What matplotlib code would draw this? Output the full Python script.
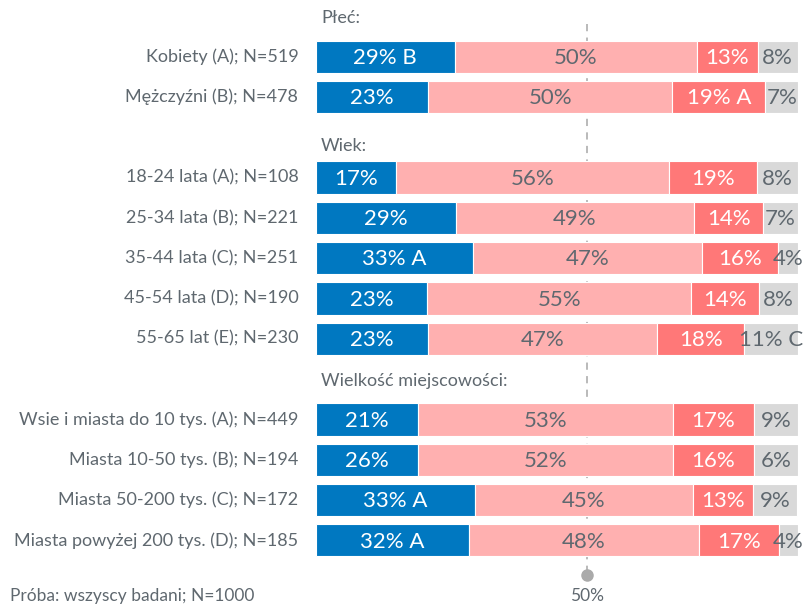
import numpy as np
import matplotlib.pyplot as plt

# Row labels, top to bottom
labels = ["Kobiety (A); N=519", "Mężczyźni (B); N=478",
          "18-24 lata (A); N=108", "25-34 lata (B); N=221", "35-44 lata (C); N=251",
          "45-54 lata (D); N=190", "55-65 lat (E); N=230",
          "Wsie i miasta do 10 tys. (A); N=449", "Miasta 10-50 tys. (B); N=194",
          "Miasta 50-200 tys. (C); N=172", "Miasta powyżej 200 tys. (D); N=185"]

# Segment widths (%) as drawn in the picture
blue = [28.9, 23.4, 16.7, 29.1, 32.6, 23.1, 23.4, 21.3, 21.3, 33.0, 31.8]
pink = [50.2, 50.6, 56.6, 49.4, 47.6, 54.8, 47.5, 52.8, 52.8, 45.2, 47.7]
red = [12.6, 19.3, 18.3, 14.4, 15.8, 14.1, 18.0, 16.8, 16.8, 12.6, 16.6]
gray = [8.3, 6.8, 8.5, 7.1, 4.0, 8.1, 11.1, 9.1, 9.1, 9.1, 3.9]

# Printed labels of each segment
blue_txt = ["29% B", "23%", "17%", "29%", "33% A", "23%", "23%", "21%", "26%", "33% A", "32% A"]
pink_txt = ["50%", "50%", "56%", "49%", "47%", "55%", "47%", "53%", "52%", "45%", "48%"]
red_txt = ["13%", "19% A", "19%", "14%", "16%", "14%", "18%", "17%", "16%", "13%", "17%"]
gray_txt = ["8%", "7%", "8%", "7%", "4%", "8%", "11% C", "9%", "6%", "9%", "4%"]

groups = ["Płeć:", "Wiek:", "Wielkość miejscowości:"]
group_y = [-0.95, 2.22, 8.05]
slots = [0, 1, 3, 4, 5, 6, 7, 9, 10, 11, 12]

ref_x = 56.2  # where the "50%" marker sits on the bar scale

c_blue, c_pink, c_red, c_gray = "#0078c1", "#ffb0b0", "#ff7878", "#d9d9d9"
txt_col = "#5f686f"
font = "Lato"

fig = plt.figure(figsize=(8.04, 6.05), dpi=100)
ax = fig.add_axes([315.7 / 804, 0, 482 / 804, 1])
ax.set_xlim(0, 100)
ax.set_ylim(13.605, -1.407)
ax.axis("off")

y = np.array(slots, dtype=float)
left = np.zeros(len(y))
for vals, txts, col, tc in [(blue, blue_txt, c_blue, "white"),
                            (pink, pink_txt, c_pink, txt_col),
                            (red, red_txt, c_red, "white"),
                            (gray, gray_txt, c_gray, txt_col)]:
    vals = np.array(vals)
    ax.barh(y, vals, left=left, height=0.8, color=col, edgecolor="white",
            linewidth=0.8, zorder=3)
    for yi, l, v, t in zip(y, left, vals, txts):
        ax.text(l + v / 2, yi + 0.03, t, ha="center", va="center", color=tc,
                fontsize=16, family=font, zorder=5)
    left = left + vals

# row labels
for yi, lab in zip(y, labels):
    ax.text(-3.6, yi, lab, ha="right", va="center", color=txt_col,
            fontsize=13, family=font)

for g, gy in zip(groups, group_y):
    ax.text(1.1, gy, g, ha="left", va="center", color=txt_col,
            fontsize=13, family=font)

# reference line
ax.plot([ref_x, ref_x], [-0.81, 12.74], color="#b4b4b4", lw=1.3,
        ls=(0, (4, 3.5)), zorder=1)
ax.plot([ref_x], [12.86], "o", color="#aaaaaa", ms=8, zorder=1)
ax.text(ref_x, 13.38, "50%", ha="center", va="center", color=txt_col,
        fontsize=12.5, family=font)

fig.text(10 / 804, 1 / 605, "Próba: wszyscy badani; N=1000", ha="left",
         va="bottom", color=txt_col, fontsize=12.5, family=font)

fig.savefig("out.png", dpi=100)
